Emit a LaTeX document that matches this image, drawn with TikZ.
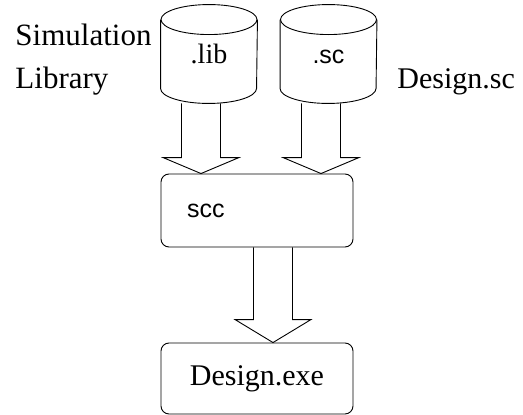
\documentclass[tikz,border=0pt]{standalone}
\usepackage{fontspec}
\setmainfont{Liberation Serif}
\setsansfont{Liberation Sans}
\usetikzlibrary{calc}

\begin{document}
\begin{tikzpicture}[x=1pt, y=-1pt, line width=0.9pt]
	\tikzstyle{db} = [rectangle, minimum width=96pt, minimum height=98pt, inner sep=0pt, text height=19pt, text depth=0pt]
	\tikzstyle{stage} = [rectangle, rounded corners=8pt, draw, minimum width=192pt]
	\tikzset{fat/.style={draw, to path={let \p1=(\tikztostart), \p2=(\tikztotarget) in
		(\x2-19.5pt,\y1) -- (\x2-19.5pt,\y2+#1) -- (\x2-38pt,\y2+#1) -- (\x2,\y2)
		-- (\x2+38pt,\y2+#1) -- (\x2+19.5pt,\y2+#1) -- (\x2+19.5pt,\y1)}}}
	\useasboundingbox (0,0) rectangle (523,415);
	\node[db, font=\rmfamily\fontsize{28}{30}\selectfont] (lib) at (209,54) {.lib};
	\node[db, font=\sffamily\fontsize{25}{28}\selectfont] (sc) at (328.5,54) {.sc};
	% the two drums
	\foreach \n in {lib,sc} {
		\draw ([yshift=-15pt]\n.north) ellipse [x radius=48pt, y radius=15pt];
		\draw ([yshift=-15pt]\n.north west) -- ([yshift=15pt]\n.south west)
			arc [start angle=180, end angle=360, x radius=48pt, y radius=15pt]
			-- ([yshift=-15pt]\n.north east);
	}
	\node[stage, minimum height=73pt, text width=140pt, inner xsep=26pt, align=left, font=\sffamily\fontsize{25}{28}\selectfont] (scc) at (257,210.5) {scc};
	\node[stage, minimum height=71pt, font=\rmfamily\fontsize{30}{32}\selectfont] (exe) at (257,378.5) {Design.exe};
	\node[anchor=west, inner sep=0pt, align=left, font=\rmfamily\fontsize{31}{43}\selectfont] (simlib) at (15,59.5) {Simulation\\Library};
	\node[anchor=base west, inner sep=0pt, font=\rmfamily\fontsize{30}{32}\selectfont] (design) at (397,88) {Design.sc};
	\coordinate (libin) at ([xshift=-56pt]scc.north);
	\coordinate (scin) at ([xshift=64pt]scc.north);
	\coordinate (exein) at ([xshift=16pt]exe.north);
	\path (lib.south) edge[fat=16pt] (libin);
	\path (sc.south) edge[fat=16pt] (scin);
	\path (scc.south) edge[fat=23pt] (exein);
\end{tikzpicture}
\end{document}
